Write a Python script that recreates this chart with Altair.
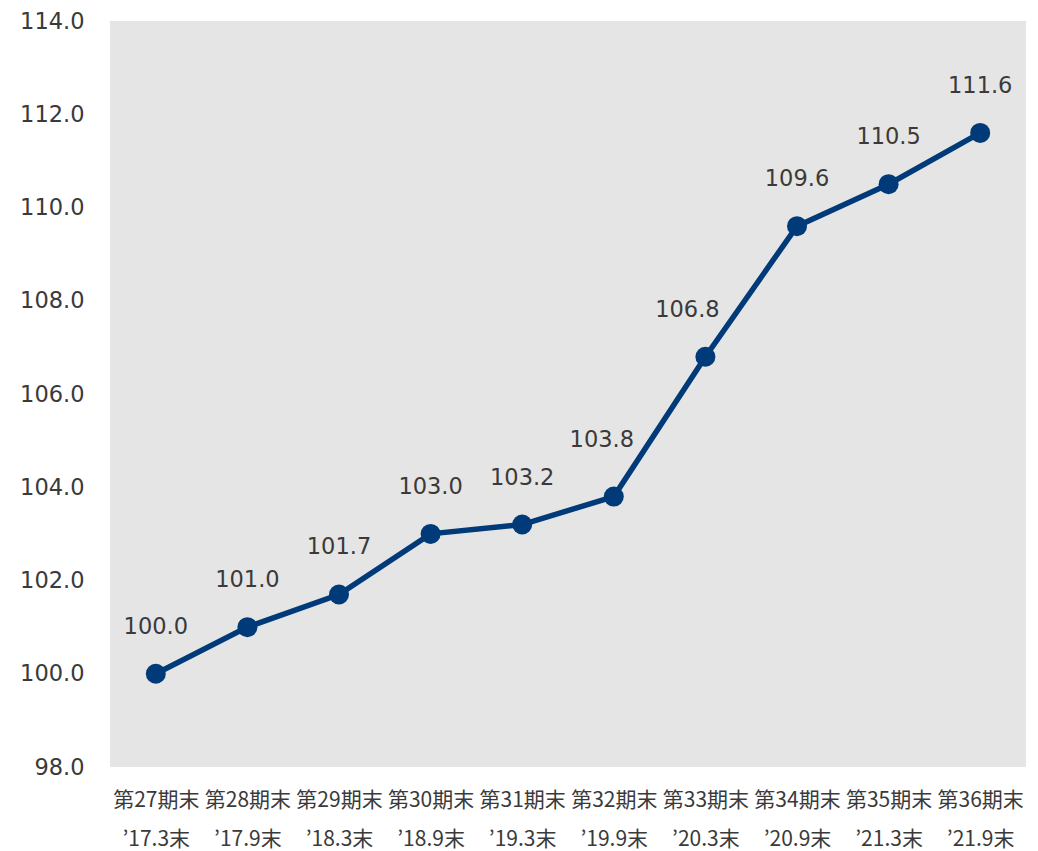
import altair as alt
import pandas as pd

periods = ["第27期末", "第28期末", "第29期末", "第30期末", "第31期末",
           "第32期末", "第33期末", "第34期末", "第35期末", "第36期末"]
dates = ["’17.3末", "’17.9末", "’18.3末", "’18.9末", "’19.3末",
         "’19.9末", "’20.3末", "’20.9末", "’21.3末", "’21.9末"]
values = [100.0, 101.0, 101.7, 103.0, 103.2, 103.8, 106.8, 109.6, 110.5, 111.6]

df = pd.DataFrame({
    "cat": [p + "|" + d for p, d in zip(periods, dates)],
    "period": periods,
    "value": values,
})

NAVY = "#003A78"
TEXT = "#3a3a3a"
FONT = "DejaVu Sans"
CJK = "Noto Sans CJK JP"

x = alt.X("cat:N", sort=None, title=None,
          axis=alt.Axis(labelExpr="split(datum.value, '|')", labelAngle=0,
                        labelFont=CJK, labelFontSize=21, labelColor=TEXT,
                        labelLineHeight=39, labelPadding=22,
                        ticks=False, domain=False, grid=False))
y = alt.Y("value:Q", title=None,
          scale=alt.Scale(domain=[98, 114], nice=False, zero=False),
          axis=alt.Axis(values=[98, 100, 102, 104, 106, 108, 110, 112, 114],
                        format=".1f", labelFont=FONT, labelFontSize=22.5,
                        labelColor=TEXT, labelPadding=26,
                        ticks=False, domain=False, grid=False))

base = alt.Chart(df).encode(x=x, y=y)

line = base.mark_line(color=NAVY, strokeWidth=5.5)
pts = base.mark_circle(color=NAVY, size=400, opacity=1)

txt = dict(fontSize=22.5, font=FONT, color=TEXT, baseline="middle")
text_enc = alt.Text("value:Q", format=".1f")
shifted = ["第32期末", "第33期末"]
labels = base.mark_text(dy=-47, **txt).encode(text=text_enc).transform_filter(
    ~alt.FieldOneOfPredicate(field="period", oneOf=shifted))
label32 = base.mark_text(dx=-12, dy=-57, **txt).encode(text=text_enc).transform_filter(
    alt.datum.period == "第32期末")
label33 = base.mark_text(dx=-18, dy=-47, **txt).encode(text=text_enc).transform_filter(
    alt.datum.period == "第33期末")

chart = (line + pts + labels + label32 + label33).properties(
    width=916, height=746,
    padding={"left": 19, "top": 10, "right": 11, "bottom": 5},
    background="white",
).configure_view(fill="#E5E5E5", stroke=None)

chart.save("out.html", embed_options={"renderer": "svg", "actions": False})
